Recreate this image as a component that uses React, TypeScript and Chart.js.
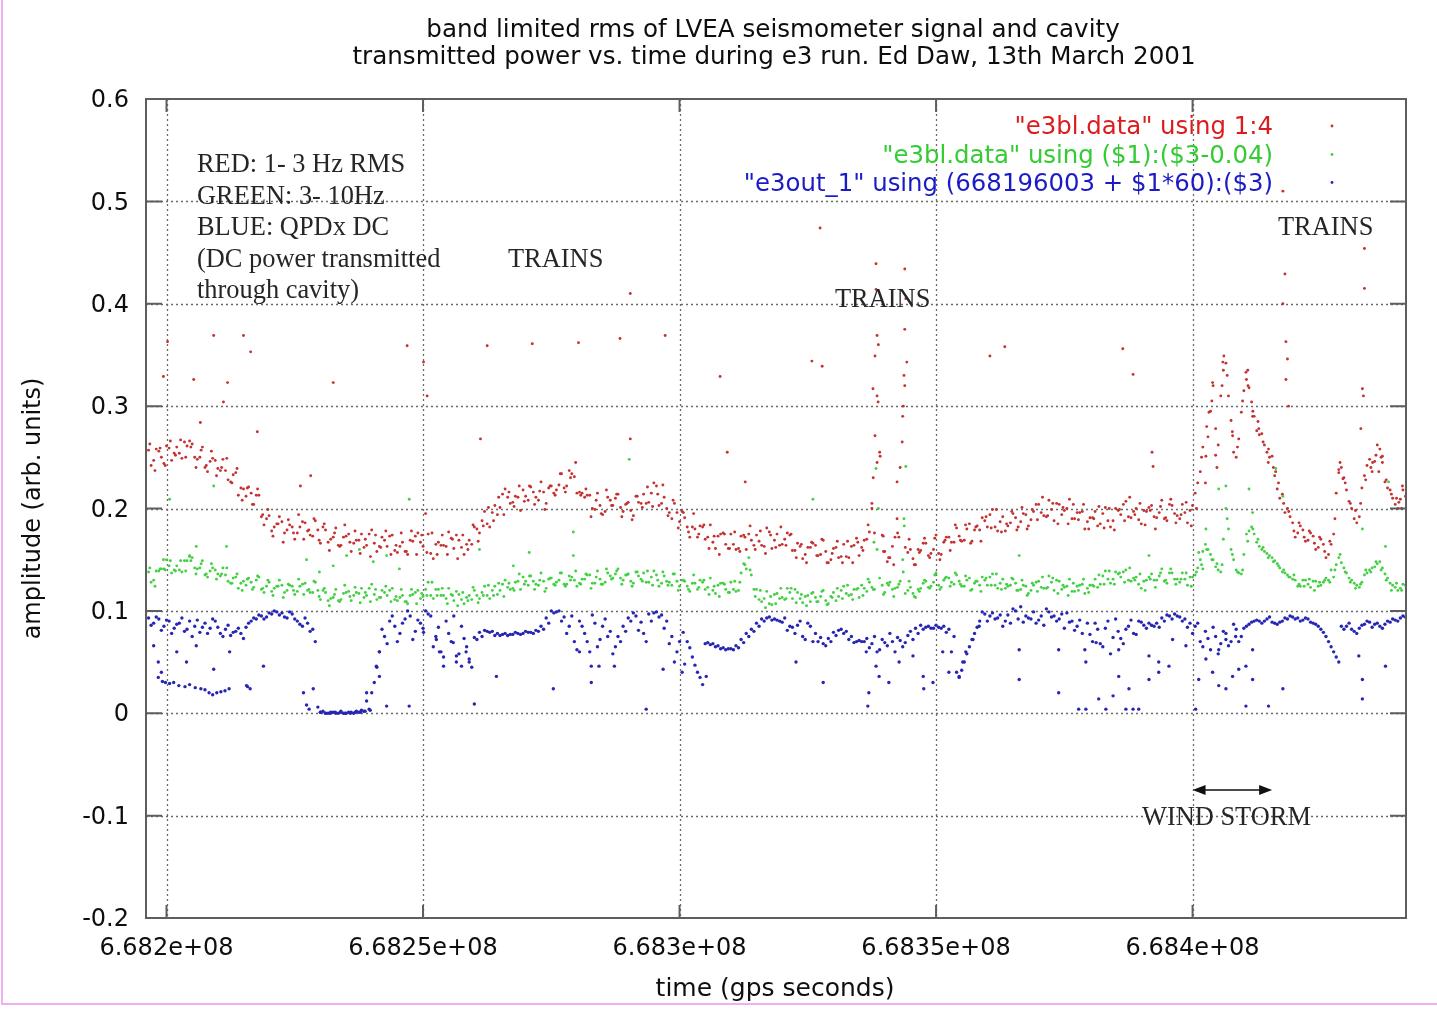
import React, { useEffect, useRef } from "react";
import { Chart, registerables } from "chart.js";

Chart.register(...registerables);

// ---------------- data ----------------
// regular samples: one value every SAMPLE_STEP seconds; three interleaved readings of each band
// (A starts at SAMPLE_START, B a quarter step later, C half a step later), gps seconds.
const SAMPLE_START = 668196500;
const QUARTER_START = 668196750;
const MID_START = 668197000;
const SAMPLE_STEP = 1000;
// sparse points are given as [kiloseconds after KS_BASE, value]
const KS_BASE = 668000000;

const X_MIN = 668196003;
const X_MAX = 668441600;
const X_TICKS = [668200000, 668250000, 668300000, 668350000, 668400000];
const X_TICK_LABELS = ["6.682e+08", "6.6825e+08", "6.683e+08", "6.6835e+08", "6.684e+08"];
const Y_TICKS = [-0.2, -0.1, 0, 0.1, 0.2, 0.3, 0.4, 0.5, 0.6];
const Y_TICK_LABELS = ["-0.2", "-0.1", "0", "0.1", "0.2", "0.3", "0.4", "0.5", "0.6"];

const TITLE_LINES = [
  "band limited rms of LVEA seismometer signal and cavity",
  "transmitted power vs. time during e3 run. Ed Daw, 13th March 2001",
];
const X_TITLE = "time (gps seconds)";
const Y_TITLE = "amplitude (arb. units)";
const LEGEND_LABELS = [
  '"e3bl.data" using 1:4',
  '"e3bl.data" using ($1):($3-0.04)',
  '"e3out_1" using (668196003 + $1*60):($3)',
];
const NOTE_LINES = [
  "RED: 1- 3 Hz RMS",
  "GREEN: 3- 10Hz",
  "BLUE: QPDx DC",
  "(DC power transmitted",
  "through cavity)",
];
const TRAINS_LABEL = "TRAINS";
const STORM_LABEL = "WIND STORM";
const STORM_START = 668400000;
const STORM_END = 668415500;
const STORM_ARROW_Y = -0.075;

// red: 1-3 Hz band limited rms ("e3bl.data" using 1:4)
const redRmsA = [
  0.257, 0.247, 0.256, 0.244, 0.259, 0.254, 0.254, 0.265, 0.266, 0.25, 0.25, 0.24, 0.246,
  0.247, 0.237, 0.237, 0.226, 0.235, 0.22, 0.212, 0.215, 0.213, 0.192, 0.19, 0.178, 0.185,
  0.187, 0.179, 0.182, 0.176, 0.187, 0.178, 0.173, 0.179, 0.182, 0.167, 0.172, 0.164, 0.172,
  0.175, 0.166, 0.169, 0.162, 0.175, 0.166, 0.163, 0.169, 0.173, 0.159, 0.163, 0.158, 0.169,
  0.173, 0.167, 0.195, 0.156, 0.165, 0.164, 0.163, 0.171, 0.174, 0.162, 0.165, 0.165, 0.18,
  0.188, 0.185, 0.196, 0.194, 0.214, 0.211, 0.206, 0.211, 0.218, 0.208, 0.216, 0.208, 0.216,
  0.22, 0.215, 0.223, 0.22, 0.237, 0.231, 0.216, 0.211, 0.213, 0.199, 0.203, 0.197, 0.208,
  0.21, 0.201, 0.204, 0.198, 0.212, 0.205, 0.205, 0.215, 0.222, 0.205, 0.2, 0.19, 0.196,
  0.197, 0.182, 0.182, 0.172, 0.182, 0.172, 0.167, 0.173, 0.176, 0.161, 0.165, 0.161, 0.174,
  0.175, 0.164, 0.168, 0.163, 0.177, 0.169, 0.164, 0.17, 0.174, 0.159, 0.163, 0.155, 0.162,
  0.164, 0.155, 0.158, 0.15, 0.162, 0.153, 0.153, 0.163, 0.171, 0.162, 0.17, 0.205, 0.31,
  0.174, 0.148, 0.163, 0.176, 0.29, 0.157, 0.151, 0.16, 0.166, 0.154, 0.16, 0.156, 0.167,
  0.172, 0.167, 0.173, 0.169, 0.185, 0.179, 0.179, 0.188, 0.194, 0.182, 0.187, 0.178, 0.186,
  0.191, 0.187, 0.194, 0.189, 0.204, 0.196, 0.192, 0.199, 0.205, 0.194, 0.2, 0.19, 0.196,
  0.197, 0.187, 0.191, 0.183, 0.195, 0.188, 0.188, 0.198, 0.204, 0.192, 0.197, 0.189, 0.198,
  0.201, 0.192, 0.196, 0.19, 0.204, 0.195, 0.19, 0.196, 0.198, 0.215, 0.236, 0.225, 0.295,
  0.252, 0.31, 0.342, 0.286, 0.25, 0.294, 0.326, 0.304, 0.276, 0.273, 0.255, 0.251, 0.219,
  0.214, 0.2, 0.186, 0.176, 0.179, 0.169, 0.173, 0.162, 0.165, 0.155, 0.175, 0.235, 0.23,
  0.207, 0.19, 0.192, 0.232, 0.248, 0.246, 0.258, 0.226, 0.218, 0.204, 0.209, 0.212,
];
const redRmsB = [
  0.263, 0.237, 0.259, 0.242, 0.266, 0.252, 0.267, 0.25, 0.26, 0.24, 0.257, 0.242, 0.256, 0.232, 0.24, 0.249, 0.225,
  0.239, 0.208, 0.22, 0.204, 0.219, 0.194, 0.199, 0.173, 0.185, 0.167, 0.189, 0.176, 0.194, 0.17, 0.179, 0.19, 0.169,
  0.185, 0.159, 0.176, 0.163, 0.184, 0.167, 0.178, 0.156, 0.17, 0.153, 0.174, 0.162, 0.178, 0.155, 0.164, 0.176, 0.158,
  0.178, 0.155, 0.174, 0.157, 0.176, 0.155, 0.174, 0.155, 0.17, 0.151, 0.174, 0.16, 0.184, 0.168, 0.183, 0.201, 0.188,
  0.211, 0.194, 0.216, 0.202, 0.222, 0.207, 0.222, 0.204, 0.217, 0.199, 0.222, 0.213, 0.234, 0.216, 0.23, 0.245, 0.213,
  0.219, 0.192, 0.208, 0.195, 0.218, 0.203, 0.214, 0.192, 0.205, 0.189, 0.212, 0.201, 0.221, 0.202, 0.214, 0.223, 0.193,
  0.208, 0.181, 0.196, 0.177, 0.195, 0.175, 0.184, 0.161, 0.173, 0.155, 0.175, 0.161, 0.177, 0.158, 0.172, 0.183, 0.16,
  0.178, 0.156, 0.174, 0.162, 0.182, 0.164, 0.175, 0.152, 0.165, 0.147, 0.167, 0.154, 0.17, 0.147, 0.156, 0.168, 0.147,
  0.168, 0.147, 0.167, 0.159, 0.184, 0.23, 0.36, 0.158, 0.152, 0.145, 0.172, 0.33, 0.17, 0.145, 0.157, 0.171, 0.152,
  0.171, 0.15, 0.169, 0.159, 0.184, 0.169, 0.184, 0.166, 0.182, 0.168, 0.192, 0.181, 0.199, 0.177, 0.185, 0.197, 0.179,
  0.201, 0.18, 0.199, 0.189, 0.211, 0.193, 0.205, 0.185, 0.201, 0.185, 0.204, 0.189, 0.204, 0.18, 0.19, 0.202, 0.181,
  0.2, 0.179, 0.199, 0.188, 0.211, 0.194, 0.205, 0.184, 0.198, 0.18, 0.202, 0.191, 0.209, 0.186, 0.194, 0.206, 0.183,
  0.2, 0.25, 0.28, 0.305, 0.24, 0.32, 0.33, 0.275, 0.26, 0.305, 0.335, 0.295, 0.285, 0.265, 0.245, 0.24, 0.225,
  0.205, 0.197, 0.178, 0.186, 0.172, 0.178, 0.166, 0.172, 0.158, 0.168, 0.19, 0.245, 0.225, 0.205, 0.198, 0.205,
  0.228, 0.24, 0.252, 0.25, 0.228, 0.214, 0.21, 0.2,
];
const redRmsC = [
  0.242, 0.258, 0.25, 0.261, 0.247, 0.26, 0.249, 0.261, 0.263, 0.248, 0.26,
  0.236, 0.249, 0.239, 0.248, 0.228, 0.233, 0.213, 0.219, 0.221, 0.204, 0.213,
  0.184, 0.193, 0.182, 0.192, 0.176, 0.184, 0.17, 0.182, 0.186, 0.174, 0.188,
  0.166, 0.179, 0.17, 0.181, 0.164, 0.173, 0.158, 0.169, 0.175, 0.164, 0.179,
  0.158, 0.172, 0.163, 0.174, 0.157, 0.167, 0.155, 0.168, 0.176, 0.163, 0.175,
  0.151, 0.167, 0.164, 0.177, 0.161, 0.169, 0.155, 0.169, 0.182, 0.176, 0.197,
  0.182, 0.203, 0.201, 0.219, 0.205, 0.212, 0.198, 0.212, 0.221, 0.211, 0.226,
  0.205, 0.222, 0.218, 0.234, 0.222, 0.234, 0.215, 0.215, 0.213, 0.2, 0.215,
  0.194, 0.211, 0.203, 0.214, 0.197, 0.206, 0.193, 0.206, 0.214, 0.206, 0.225,
  0.203, 0.211, 0.196, 0.205, 0.187, 0.191, 0.172, 0.18, 0.183, 0.17, 0.184,
  0.161, 0.175, 0.165, 0.175, 0.16, 0.173, 0.16, 0.169, 0.174, 0.164, 0.181,
  0.161, 0.175, 0.165, 0.176, 0.159, 0.166, 0.151, 0.162, 0.166, 0.154, 0.169,
  0.147, 0.161, 0.152, 0.165, 0.152, 0.164, 0.154, 0.169, 0.177, 0.176, 0.255,
  0.158, 0.152, 0.172, 0.24, 0.162, 0.16, 0.145, 0.159, 0.166, 0.156, 0.174,
  0.155, 0.172, 0.167, 0.181, 0.168, 0.18, 0.168, 0.183, 0.191, 0.182, 0.199,
  0.178, 0.192, 0.183, 0.195, 0.182, 0.195, 0.183, 0.197, 0.204, 0.193, 0.208,
  0.188, 0.204, 0.198, 0.209, 0.19, 0.196, 0.18, 0.191, 0.197, 0.185, 0.201,
  0.182, 0.2, 0.194, 0.207, 0.191, 0.2, 0.185, 0.197, 0.203, 0.191, 0.208,
  0.188, 0.203, 0.193, 0.204, 0.186, 0.203,
  0.225, 0.26, 0.27, 0.32, 0.262, 0.335, 0.31, 0.255, 0.268, 0.315, 0.318, 0.29, 0.272,
  0.262, 0.25, 0.232, 0.21, 0.196, 0.192, 0.172, 0.183, 0.168, 0.176, 0.16, 0.17, 0.152,
  0.165, 0.215, 0.24, 0.218, 0.2, 0.186, 0.22, 0.242, 0.236, 0.262, 0.245, 0.22, 0.21,
  0.2, 0.218,
];

// green: 3-10 Hz band limited rms, shifted down by 0.04 ("e3bl.data" using ($1):($3-0.04))
const greenRmsA = [
  0.138, 0.13, 0.139, 0.141, 0.144, 0.14, 0.14, 0.149, 0.153, 0.142, 0.142, 0.135, 0.139,
  0.14, 0.134, 0.135, 0.127, 0.133, 0.127, 0.125, 0.128, 0.13, 0.121, 0.124, 0.119, 0.124,
  0.125, 0.12, 0.124, 0.119, 0.126, 0.12, 0.118, 0.12, 0.12, 0.11, 0.113, 0.11, 0.117,
  0.119, 0.115, 0.117, 0.113, 0.122, 0.116, 0.113, 0.118, 0.12, 0.111, 0.113, 0.109, 0.115,
  0.118, 0.112, 0.121, 0.115, 0.121, 0.115, 0.112, 0.116, 0.119, 0.111, 0.113, 0.111, 0.115,
  0.118, 0.115, 0.12, 0.116, 0.126, 0.123, 0.122, 0.129, 0.133, 0.125, 0.129, 0.125, 0.129,
  0.131, 0.126, 0.13, 0.126, 0.134, 0.13, 0.127, 0.131, 0.135, 0.127, 0.131, 0.128, 0.134,
  0.136, 0.132, 0.135, 0.129, 0.138, 0.131, 0.128, 0.133, 0.135, 0.127, 0.129, 0.125, 0.129,
  0.13, 0.124, 0.127, 0.121, 0.128, 0.123, 0.12, 0.125, 0.127, 0.118, 0.121, 0.12, 0.146,
  0.152, 0.121, 0.111, 0.112, 0.107, 0.116, 0.112, 0.111, 0.118, 0.121, 0.112, 0.114, 0.109,
  0.113, 0.114, 0.11, 0.114, 0.11, 0.12, 0.117, 0.116, 0.121, 0.125, 0.119, 0.123, 0.16,
  0.125, 0.127, 0.121, 0.123, 0.15, 0.12, 0.117, 0.121, 0.127, 0.123, 0.128, 0.125, 0.13,
  0.132, 0.126, 0.129, 0.124, 0.132, 0.127, 0.125, 0.13, 0.133, 0.125, 0.127, 0.122, 0.125,
  0.127, 0.121, 0.124, 0.12, 0.128, 0.123, 0.122, 0.128, 0.13, 0.121, 0.124, 0.119, 0.124,
  0.126, 0.122, 0.125, 0.123, 0.134, 0.131, 0.131, 0.136, 0.138, 0.13, 0.132, 0.126, 0.129,
  0.133, 0.13, 0.134, 0.129, 0.137, 0.131, 0.128, 0.131, 0.133, 0.135, 0.15, 0.165, 0.155,
  0.143, 0.138, 0.2, 0.16, 0.14, 0.136, 0.175, 0.182, 0.167, 0.16, 0.156, 0.152, 0.146,
  0.138, 0.135, 0.131, 0.124, 0.13, 0.126, 0.129, 0.124, 0.128, 0.13, 0.133, 0.152, 0.142,
  0.132, 0.127, 0.123, 0.135, 0.14, 0.143, 0.148, 0.136, 0.127, 0.123, 0.122, 0.125,
];
const greenRmsB = [
  0.142, 0.124, 0.141, 0.14, 0.149, 0.139, 0.149, 0.139, 0.149, 0.136, 0.146, 0.136, 0.146, 0.131, 0.136, 0.142, 0.127,
  0.136, 0.12, 0.131, 0.121, 0.134, 0.122, 0.13, 0.115, 0.124, 0.113, 0.126, 0.12, 0.131, 0.116, 0.121, 0.129, 0.114,
  0.122, 0.105, 0.116, 0.109, 0.125, 0.114, 0.123, 0.108, 0.118, 0.109, 0.121, 0.113, 0.124, 0.109, 0.114, 0.121, 0.109,
  0.121, 0.107, 0.117, 0.115, 0.128, 0.115, 0.122, 0.107, 0.115, 0.105, 0.118, 0.11, 0.123, 0.108, 0.115, 0.125, 0.115,
  0.127, 0.114, 0.127, 0.12, 0.136, 0.126, 0.134, 0.121, 0.13, 0.119, 0.132, 0.125, 0.137, 0.124, 0.13, 0.139, 0.126,
  0.136, 0.122, 0.133, 0.126, 0.141, 0.131, 0.139, 0.126, 0.135, 0.124, 0.138, 0.129, 0.139, 0.125, 0.13, 0.138, 0.125,
  0.136, 0.12, 0.13, 0.121, 0.135, 0.123, 0.13, 0.116, 0.124, 0.114, 0.126, 0.118, 0.129, 0.128, 0.145, 0.14, 0.114,
  0.12, 0.103, 0.114, 0.107, 0.122, 0.112, 0.122, 0.108, 0.116, 0.105, 0.117, 0.109, 0.119, 0.106, 0.113, 0.122, 0.112,
  0.125, 0.111, 0.122, 0.115, 0.131, 0.121, 0.2, 0.116, 0.125, 0.114, 0.126, 0.19, 0.129, 0.114, 0.119, 0.13, 0.122,
  0.135, 0.121, 0.132, 0.124, 0.137, 0.126, 0.134, 0.12, 0.129, 0.119, 0.132, 0.125, 0.136, 0.121, 0.126, 0.132, 0.12,
  0.13, 0.115, 0.127, 0.119, 0.133, 0.123, 0.132, 0.117, 0.125, 0.115, 0.127, 0.12, 0.131, 0.118, 0.124, 0.135, 0.126,
  0.139, 0.126, 0.137, 0.128, 0.142, 0.13, 0.136, 0.12, 0.131, 0.123, 0.137, 0.13, 0.141, 0.126, 0.131, 0.137, 0.124,
  0.138, 0.145, 0.16, 0.15, 0.146, 0.145, 0.19, 0.155, 0.138, 0.14, 0.168, 0.18, 0.17, 0.162, 0.152, 0.148, 0.144,
  0.14, 0.133, 0.135, 0.126, 0.124, 0.131, 0.12, 0.128, 0.13, 0.128, 0.14, 0.155, 0.138, 0.128, 0.122, 0.126,
  0.14, 0.138, 0.148, 0.14, 0.13, 0.12, 0.127, 0.12,
];
const greenRmsC = [
  0.128, 0.139, 0.141, 0.15, 0.137, 0.144, 0.138, 0.149, 0.152, 0.141, 0.149,
  0.133, 0.142, 0.136, 0.142, 0.129, 0.132, 0.122, 0.129, 0.132, 0.123, 0.133,
  0.118, 0.128, 0.122, 0.13, 0.118, 0.125, 0.116, 0.124, 0.127, 0.118, 0.128,
  0.111, 0.118, 0.112, 0.121, 0.111, 0.118, 0.11, 0.118, 0.122, 0.115, 0.126,
  0.111, 0.12, 0.115, 0.122, 0.11, 0.115, 0.107, 0.116, 0.12, 0.114, 0.128,
  0.112, 0.121, 0.115, 0.122, 0.11, 0.116, 0.107, 0.115, 0.12, 0.112, 0.124,
  0.112, 0.124, 0.12, 0.13, 0.121, 0.128, 0.121, 0.129, 0.134, 0.126, 0.137,
  0.122, 0.132, 0.128, 0.137, 0.126, 0.133, 0.124, 0.131, 0.135, 0.127, 0.139,
  0.126, 0.137, 0.132, 0.141, 0.13, 0.136, 0.127, 0.134, 0.137, 0.128, 0.139,
  0.124, 0.134, 0.128, 0.136, 0.124, 0.129, 0.119, 0.127, 0.13, 0.121, 0.132,
  0.117, 0.127, 0.121, 0.128, 0.119, 0.137, 0.141, 0.135, 0.121, 0.109, 0.119,
  0.106, 0.117, 0.113, 0.122, 0.112, 0.118, 0.108, 0.115, 0.118, 0.109, 0.12,
  0.107, 0.118, 0.114, 0.124, 0.115, 0.121, 0.113, 0.122, 0.128, 0.121, 0.132,
  0.118, 0.128, 0.122, 0.129, 0.117, 0.123, 0.113, 0.122, 0.129, 0.124, 0.137,
  0.123, 0.133, 0.128, 0.135, 0.124, 0.13, 0.121, 0.129, 0.133, 0.125, 0.136,
  0.122, 0.131, 0.124, 0.131, 0.12, 0.125, 0.117, 0.125, 0.129, 0.122, 0.134,
  0.12, 0.129, 0.123, 0.131, 0.119, 0.125, 0.117, 0.125, 0.131, 0.126, 0.139,
  0.127, 0.138, 0.133, 0.14, 0.129, 0.133, 0.122, 0.13, 0.136, 0.13, 0.141,
  0.127, 0.137, 0.131, 0.137, 0.125, 0.133,
  0.142, 0.158, 0.16, 0.15, 0.14, 0.17, 0.18, 0.15, 0.137, 0.155, 0.178, 0.175, 0.163,
  0.158, 0.154, 0.149, 0.142, 0.137, 0.133, 0.13, 0.124, 0.13, 0.123, 0.129, 0.125, 0.132,
  0.14, 0.145, 0.147, 0.137, 0.13, 0.125, 0.128, 0.137, 0.142, 0.146, 0.142, 0.132, 0.125,
  0.12, 0.126,
];

// blue: QPDx DC, transmitted power ("e3out_1")
const blueQpdA = [
  0.093, 0.088, 0.092, 0.085, 0.09, 0.083, 0.088, 0.08, 0.09, 0.085, 0.079, 0.088, 0.083,
  0.09, 0.078, 0.082, 0.076, 0.08, 0.078, 0.084, 0.09, 0.092, 0.095, 0.094, 0.097, 0.099,
  0.098, 0.093, 0.097, 0.09, 0.085, 0.088, 0.082, 0.006, 0.002, 0.0, 0.001, 0.0, 0.0,
  0.001, 0.0, 0.001, 0.002, 0.004, 0.03, 0.06, 0.075, 0.09, 0.085, 0.078, 0.092, 0.095,
  0.08, 0.088, 0.1, 0.095, 0.075, 0.06, 0.09, 0.07, 0.05, 0.085, 0.065, 0.045, 0.072,
  0.075, 0.08, 0.08, 0.078, 0.077, 0.076, 0.077, 0.078, 0.078, 0.079, 0.078, 0.08, 0.082,
  0.088, 0.098, 0.1, 0.094, 0.085, 0.07, 0.09, 0.078, 0.06, 0.088, 0.072, 0.092, 0.08,
  0.065, 0.07, 0.08, 0.09, 0.095, 0.089, 0.07, 0.09, 0.099, 0.096, 0.09, 0.075, 0.06,
  0.04, 0.07, 0.055, 0.04, 0.028, 0.069, 0.068, 0.066, 0.064, 0.063, 0.062, 0.064, 0.069,
  0.075, 0.08, 0.085, 0.09, 0.094, 0.092, 0.09, 0.093, 0.085, 0.078, 0.09, 0.072, 0.085,
  0.078, 0.074, 0.066, 0.07, 0.076, 0.082, 0.08, 0.075, 0.07, 0.07, 0.073, 0.068, 0.06,
  0.072, 0.066, 0.07, 0.074, 0.065, 0.076, 0.072, 0.078, 0.082, 0.085, 0.083, 0.084, 0.085,
  0.082, 0.075, 0.035, 0.05, 0.065, 0.078, 0.09, 0.097, 0.095, 0.092, 0.096, 0.09, 0.088,
  0.1, 0.104, 0.095, 0.092, 0.088, 0.095, 0.102, 0.094, 0.09, 0.097, 0.098, 0.09, 0.085,
  0.078, 0.088, 0.07, 0.082, 0.065, 0.09, 0.074, 0.08, 0.068, 0.085, 0.078, 0.09, 0.086,
  0.088, 0.085, 0.084, 0.09, 0.095, 0.097, 0.094, 0.092, 0.088, 0.085, 0.07, 0.08, 0.062,
  0.075, 0.068, 0.078, 0.07, 0.082, 0.075, 0.085, 0.089, 0.091, 0.088, 0.092, 0.089, 0.087,
  0.09, 0.092, 0.094, 0.093, 0.091, 0.092, 0.088, 0.085, 0.079, 0.07, 0.06, 0.05, 0.082,
  0.088, 0.08, 0.083, 0.087, 0.089, 0.087, 0.085, 0.087, 0.089, 0.091, 0.093, 0.094,
];
const blueQpdC = [
  0.086, 0.094, 0.081, 0.091, 0.078, 0.087, 0.093, 0.082, 0.075, 0.091, 0.084, 0.078, 0.092,
  0.084, 0.075, 0.086, 0.079, 0.083, 0.073, 0.088,
  0.093, 0.096, 0.092, 0.098, 0.1, 0.096, 0.094, 0.099, 0.092, 0.087, 0.093, 0.08,
  0.07,
  0.001, 0.0, 0.001, 0.0, 0.002, 0.0, 0.001, 0.002, 0.003,
  0.012, 0.02, 0.045,
  0.082, 0.068, 0.095, 0.07, 0.088, 0.1, 0.072, 0.091, 0.083, 0.097, 0.065, 0.084, 0.055,
  0.078, 0.095, 0.058, 0.073, 0.05,
  0.074, 0.079, 0.081, 0.079, 0.076, 0.076, 0.078, 0.077, 0.079, 0.077, 0.08, 0.079, 0.081,
  0.085,
  0.093, 0.1, 0.099,
  0.09, 0.078, 0.095, 0.062, 0.085, 0.07, 0.096, 0.065, 0.085, 0.075, 0.058, 0.075, 0.085,
  0.093, 0.098, 0.081, 0.078, 0.097, 0.098, 0.094, 0.083, 0.068,
  0.05, 0.07, 0.048, 0.064, 0.047, 0.035,
  0.068, 0.067, 0.065, 0.063, 0.062, 0.063, 0.066, 0.072, 0.078, 0.082, 0.088, 0.092, 0.093,
  0.091, 0.091, 0.089,
  0.081, 0.084, 0.086, 0.075, 0.088, 0.07, 0.07, 0.068, 0.073, 0.079, 0.081, 0.078, 0.072,
  0.069, 0.071, 0.07, 0.064, 0.075,
  0.062, 0.069, 0.078, 0.06, 0.071, 0.069, 0.08, 0.083, 0.086, 0.084, 0.083, 0.086, 0.083,
  0.079, 0.06,
  0.04, 0.042, 0.058, 0.072, 0.084,
  0.099, 0.09, 0.098, 0.093, 0.085, 0.096, 0.102, 0.092, 0.089, 0.093, 0.099, 0.091, 0.086,
  0.099, 0.095, 0.092, 0.083, 0.089, 0.081,
  0.091, 0.062, 0.077, 0.088, 0.068, 0.083, 0.058, 0.092, 0.073, 0.082, 0.091, 0.077, 0.089,
  0.083, 0.086, 0.088, 0.093, 0.096, 0.092, 0.095, 0.09, 0.084, 0.078,
  0.088, 0.065, 0.073, 0.084, 0.058, 0.08, 0.066, 0.087, 0.07, 0.083,
  0.087, 0.09, 0.09, 0.09, 0.094, 0.088, 0.089, 0.093, 0.095, 0.092, 0.09, 0.093, 0.089,
  0.087,
  0.082, 0.075, 0.065, 0.055,
  0.085,
  0.085, 0.082, 0.078, 0.086, 0.09, 0.084, 0.088, 0.083, 0.09, 0.092, 0.09, 0.095,
];

// sparse points away from the main bands: [ks after KS_BASE, value]
const redSpikes = [
  [199.4, 0.329], [200.2, 0.363], [205.3, 0.326], [206.6, 0.284], [209.2, 0.369], [211.1, 0.304],
  [211.9, 0.323], [215.0, 0.369], [216.4, 0.353], [217.7, 0.275], [226.1, 0.222], [228.1, 0.232],
  [232.5, 0.323], [246.9, 0.359], [250.1, 0.343], [250.8, 0.31], [261.2, 0.268], [262.5, 0.359],
  [271.3, 0.361], [280.3, 0.362], [288.4, 0.366], [290.4, 0.268], [290.4, 0.41], [297.2, 0.369],
  [307.9, 0.329], [309.3, 0.255], [312.8, 0.226], [325.8, 0.344], [327.4, 0.474], [327.8, 0.339],
  [337.5, 0.2], [337.7, 0.317], [338.1, 0.349], [338.1, 0.271], [338.3, 0.439], [338.3, 0.414],
  [338.5, 0.369], [338.5, 0.245], [338.7, 0.304], [339.1, 0.251], [339.7, 0.173], [342.4, 0.226],
  [342.4, 0.19], [343.4, 0.265], [343.6, 0.3], [343.9, 0.32], [343.9, 0.375], [343.9, 0.434],
  [344.1, 0.405], [344.3, 0.343], [360.5, 0.349], [363.4, 0.358], [386.4, 0.356], [388.4, 0.331],
  [392.1, 0.255], [392.3, 0.241], [402.6, 0.251], [403.2, 0.294], [403.9, 0.323], [404.5, 0.278],
  [405.9, 0.343], [406.1, 0.349], [407.8, 0.271], [410.4, 0.333], [410.8, 0.32], [411.7, 0.29],
  [412.9, 0.278], [414.8, 0.258], [416.2, 0.236], [417.6, 0.4], [417.6, 0.51], [418.0, 0.429],
  [418.2, 0.363], [418.2, 0.326], [418.5, 0.346], [418.7, 0.3], [428.5, 0.238], [429.3, 0.229],
  [432.8, 0.278], [433.1, 0.317], [433.3, 0.31], [433.5, 0.415], [433.5, 0.454], [435.1, 0.245],
  [436.3, 0.236], [437.0, 0.251], [440.2, 0.206], [440.9, 0.222],
];

const greenSpikes = [
  [199.4, 0.15], [200.6, 0.209], [204.5, 0.154], [205.8, 0.163], [209.2, 0.222], [211.7, 0.163],
  [227.3, 0.15], [229.8, 0.138], [232.5, 0.144], [235.1, 0.154], [237.6, 0.16], [240.3, 0.148],
  [242.9, 0.154], [245.4, 0.141], [247.3, 0.209], [261.0, 0.16], [267.6, 0.144], [270.7, 0.157],
  [279.3, 0.177], [279.3, 0.154], [290.2, 0.248], [326.0, 0.209], [338.3, 0.239], [337.9, 0.167],
  [344.1, 0.241], [343.8, 0.183], [343.6, 0.138], [366.2, 0.154], [391.5, 0.154], [401.2, 0.157],
  [402.0, 0.141], [402.6, 0.18], [405.1, 0.219], [406.5, 0.222], [411.0, 0.219], [411.7, 0.196],
  [416.2, 0.239], [417.6, 0.212], [433.1, 0.18], [437.6, 0.163], [438.2, 0.226],
];

const blueScatter = [
  [198.4, 0.035], [199.2, 0.031], [199.8, 0.03], [200.6, 0.029], [201.4, 0.03], [202.4, 0.027],
  [203.6, 0.026], [204.5, 0.028], [205.6, 0.025], [206.7, 0.024], [207.5, 0.023], [208.3, 0.02],
  [209.0, 0.018], [209.8, 0.02], [210.6, 0.021], [211.4, 0.022], [212.2, 0.024], [215.8, 0.026],
  [216.3, 0.024], [227.3, 0.008], [227.8, 0.004], [230.0, 0.001], [231.0, 0.0], [231.9, 0.0],
  [232.9, 0.001], [233.9, 0.001], [234.8, 0.0], [235.8, 0.0], [236.8, 0.001], [237.8, 0.001],
  [238.7, 0.002], [239.7, 0.003], [197.5, 0.066], [198.4, 0.05], [199.0, 0.04], [202.0, 0.06],
  [203.9, 0.05], [205.8, 0.066], [209.2, 0.043], [212.3, 0.06], [215.6, 0.027], [218.9, 0.046],
  [226.7, 0.02], [228.6, 0.024], [239.0, 0.02], [240.9, 0.046], [241.5, 0.06], [241.5, 0.036],
  [242.9, 0.007], [247.3, 0.007], [250.1, 0.079], [252.6, 0.072], [253.2, 0.06], [254.0, 0.046],
  [255.9, 0.069], [256.5, 0.056], [257.5, 0.046], [258.4, 0.06], [259.0, 0.053], [260.0, 0.009],
  [264.3, 0.036], [275.4, 0.024], [280.5, 0.06], [282.8, 0.046], [282.8, 0.03], [284.3, 0.046],
  [287.3, 0.046], [293.5, 0.004], [296.8, 0.043], [300.7, 0.079], [305.2, 0.036], [322.7, 0.05],
  [328.0, 0.03], [336.4, 0.06], [336.7, 0.007], [336.9, 0.02], [338.3, 0.046], [338.9, 0.036],
  [340.8, 0.03], [342.8, 0.05], [345.5, 0.056], [347.5, 0.036], [347.6, 0.024], [349.4, 0.03],
  [351.3, 0.06], [352.5, 0.04], [354.5, 0.036], [355.2, 0.05], [355.8, 0.06], [357.2, 0.072],
  [358.4, 0.085], [366.2, 0.062], [366.2, 0.033], [373.9, 0.062], [373.9, 0.02], [377.8, 0.004],
  [379.2, 0.05], [379.2, 0.004], [381.2, 0.069], [381.7, 0.014], [383.1, 0.004], [384.5, 0.017],
  [385.6, 0.036], [385.6, 0.062], [387.0, 0.004], [387.6, 0.024], [388.4, 0.004], [389.5, 0.004],
  [391.5, 0.033], [391.5, 0.056], [393.4, 0.04], [393.4, 0.05], [395.4, 0.046], [396.1, 0.072],
  [398.7, 0.066], [400.6, 0.004], [401.2, 0.033], [402.6, 0.053], [403.9, 0.04], [405.1, 0.027],
  [405.1, 0.062], [406.5, 0.024], [406.5, 0.072], [407.8, 0.036], [408.4, 0.075], [409.0, 0.043],
  [410.4, 0.046], [410.4, 0.007], [411.7, 0.033], [411.7, 0.062], [414.8, 0.007], [417.6, 0.024],
  [432.4, 0.056], [433.1, 0.033], [433.1, 0.014], [437.6, 0.046],
];

// ---------------- styles ----------------
const RED_DOT = "#c43232";
const GREEN_DOT = "#44d044";
const BLUE_DOT = "#2626b2";
const LEGEND_COLORS = ["#dc1c1c", "#33cc33", "#1b1bc6"];
const SANS = "'DejaVu Sans', 'Liberation Sans', sans-serif";
const SERIF = "'Liberation Serif', 'DejaVu Serif', serif";

const regular = (vals: number[], start: number) =>
  vals.map((y, i) => ({ x: start + i * SAMPLE_STEP, y }));
const sparse = (arr: number[][]) => arr.map(([k, y]) => ({ x: KS_BASE + k * 1000, y }));

const decorPlugin = {
  id: "gnuplotDecor",
  beforeDatasetsDraw(chart: any) {
    const { ctx, chartArea: a, scales } = chart;
    const xs = scales.x;
    const ys = scales.y;
    ctx.save();
    ctx.strokeStyle = "#6a6a6a";
    ctx.lineWidth = 1.3;
    ctx.setLineDash([2, 3]);
    for (const v of Y_TICKS) {
      const y = Math.round(ys.getPixelForValue(v)) + 0.5;
      if (y <= a.top + 2 || y >= a.bottom - 2) continue;
      ctx.beginPath();
      ctx.moveTo(a.left, y);
      ctx.lineTo(a.right, y);
      ctx.stroke();
    }
    for (const v of X_TICKS) {
      const x = Math.round(xs.getPixelForValue(v)) + 0.5;
      ctx.beginPath();
      ctx.moveTo(x, a.top);
      ctx.lineTo(x, a.bottom);
      ctx.stroke();
    }
    ctx.restore();
  },
  afterDraw(chart: any) {
    const { ctx, chartArea: a, scales } = chart;
    const xs = scales.x;
    const ys = scales.y;
    ctx.save();
    // frame + inward tick marks
    ctx.setLineDash([]);
    ctx.strokeStyle = "#5e5e5e";
    ctx.lineWidth = 2;
    ctx.strokeRect(a.left, a.top, a.right - a.left, a.bottom - a.top);
    ctx.beginPath();
    for (const v of Y_TICKS) {
      const y = ys.getPixelForValue(v);
      ctx.moveTo(a.left, y);
      ctx.lineTo(a.left + 16, y);
      ctx.moveTo(a.right, y);
      ctx.lineTo(a.right - 16, y);
    }
    for (const v of X_TICKS) {
      const x = xs.getPixelForValue(v);
      ctx.moveTo(x, a.bottom);
      ctx.lineTo(x, a.bottom - 13);
      ctx.moveTo(x, a.top);
      ctx.lineTo(x, a.top + 13);
    }
    ctx.stroke();

    const cx = (a.left + a.right) / 2;
    // title
    ctx.fillStyle = "#0e0e0e";
    ctx.textAlign = "center";
    ctx.textBaseline = "alphabetic";
    ctx.font = `24.6px ${SANS}`;
    ctx.fillText(TITLE_LINES[0], cx - 3, 37);
    ctx.fillText(TITLE_LINES[1], cx - 2, 64);
    // axis titles
    ctx.font = `25px ${SANS}`;
    ctx.fillText(X_TITLE, cx - 1, 996);
    ctx.save();
    ctx.translate(40, (a.top + a.bottom) / 2);
    ctx.rotate(-Math.PI / 2);
    ctx.font = `24px ${SANS}`;
    ctx.fillText(Y_TITLE, 0, 0);
    ctx.restore();

    // legend (gnuplot key, right aligned, with a dot sample)
    ctx.textAlign = "right";
    ctx.font = `24.4px ${SANS}`;
    const keyY = [134, 162.5, 190.5];
    const dotCols = [RED_DOT, GREEN_DOT, BLUE_DOT];
    LEGEND_LABELS.forEach((t, i) => {
      ctx.fillStyle = LEGEND_COLORS[i];
      ctx.fillText(t, 1273, keyY[i]);
      ctx.fillStyle = dotCols[i];
      ctx.beginPath();
      ctx.arc(1332, keyY[i] - 8, 1.4, 0, Math.PI * 2);
      ctx.fill();
    });

    // serif annotations
    ctx.fillStyle = "#262626";
    ctx.textAlign = "left";
    ctx.font = `26.4px ${SERIF}`;
    const noteY = [172, 203.5, 235, 266.5, 298];
    NOTE_LINES.forEach((t, i) => ctx.fillText(t, 197, noteY[i]));
    ctx.fillText(TRAINS_LABEL, 508, 267);
    ctx.fillText(TRAINS_LABEL, 835, 307);
    ctx.fillText(TRAINS_LABEL, 1278, 235);
    ctx.fillText(STORM_LABEL, 1142, 825);

    // wind storm double arrow
    const x1 = xs.getPixelForValue(STORM_START);
    const x2 = xs.getPixelForValue(STORM_END);
    const ay = ys.getPixelForValue(STORM_ARROW_Y);
    ctx.strokeStyle = "#111";
    ctx.fillStyle = "#111";
    ctx.lineWidth = 1.6;
    ctx.beginPath();
    ctx.moveTo(x1 + 6, ay);
    ctx.lineTo(x2 - 6, ay);
    ctx.stroke();
    ctx.beginPath();
    ctx.moveTo(x1, ay);
    ctx.lineTo(x1 + 13, ay - 5);
    ctx.lineTo(x1 + 13, ay + 5);
    ctx.closePath();
    ctx.fill();
    ctx.beginPath();
    ctx.moveTo(x2, ay);
    ctx.lineTo(x2 - 13, ay - 5);
    ctx.lineTo(x2 - 13, ay + 5);
    ctx.closePath();
    ctx.fill();

    // page border (pink frame of the original page)
    ctx.strokeStyle = "#f2aef2";
    ctx.lineWidth = 2;
    ctx.beginPath();
    ctx.moveTo(2, 0);
    ctx.lineTo(2, 1004);
    ctx.lineTo(1437, 1004);
    ctx.stroke();
    ctx.restore();
  },
};

export default function App() {
  const ref = useRef<HTMLCanvasElement | null>(null);
  useEffect(() => {
    if (!ref.current) return;
    const pt = { pointRadius: 1.45, pointBorderWidth: 0, pointHoverRadius: 0, showLine: false };
    const chart = new Chart(ref.current, {
      type: "scatter",
      data: {
        datasets: [
          {
            label: "blue",
            data: [...regular(blueQpdA, SAMPLE_START), ...regular(blueQpdC, MID_START), ...sparse(blueScatter)],
            backgroundColor: BLUE_DOT,
            ...pt,
            pointRadius: 1.7,
          },
          {
            label: "green",
            data: [
              ...regular(greenRmsA, SAMPLE_START),
              ...regular(greenRmsB, QUARTER_START),
              ...regular(greenRmsC, MID_START),
              ...sparse(greenSpikes),
            ],
            backgroundColor: GREEN_DOT,
            ...pt,
          },
          {
            label: "red",
            data: [
              ...regular(redRmsA, SAMPLE_START),
              ...regular(redRmsB, QUARTER_START),
              ...regular(redRmsC, MID_START),
              ...sparse(redSpikes),
            ],
            backgroundColor: RED_DOT,
            ...pt,
          },
        ],
      },
      options: {
        responsive: false,
        animation: false,
        devicePixelRatio: 1,
        events: [],
        layout: { padding: { left: 0, top: 99, right: 31, bottom: 0 } },
        plugins: { legend: { display: false }, title: { display: false }, tooltip: { enabled: false } },
        scales: {
          x: {
            type: "linear",
            position: "bottom",
            min: X_MIN,
            max: X_MAX,
            afterBuildTicks: (s: any) => {
              s.ticks = X_TICKS.map((v) => ({ value: v }));
            },
            afterFit: (s: any) => {
              s.height = 95;
            },
            grid: { display: false, drawTicks: false },
            border: { display: false },
            ticks: {
              autoSkip: false,
              maxRotation: 0,
              minRotation: 0,
              padding: 16,
              color: "#0e0e0e",
              font: { family: SANS, size: 24 },
              callback: (v: any) => X_TICK_LABELS[X_TICKS.indexOf(Number(v))] ?? "",
            },
          },
          y: {
            type: "linear",
            position: "left",
            min: -0.2,
            max: 0.6,
            afterBuildTicks: (s: any) => {
              s.ticks = Y_TICKS.map((v) => ({ value: v }));
            },
            afterFit: (s: any) => {
              s.width = 146;
            },
            grid: { display: false, drawTicks: false },
            border: { display: false },
            ticks: {
              autoSkip: false,
              padding: 17,
              labelOffset: 2,
              color: "#0e0e0e",
              font: { family: SANS, size: 24 },
              callback: (v: any) => {
                const idx = Y_TICKS.findIndex((t) => Math.abs(t - Number(v)) < 1e-9);
                return idx >= 0 ? Y_TICK_LABELS[idx] : "";
              },
            },
          },
        },
      },
      plugins: [decorPlugin],
    } as any);
    return () => chart.destroy();
  }, []);
  return (
    <div style={{ position: "fixed", left: 0, top: 0, width: 1437, height: 1013, background: "#fff" }}>
      <canvas ref={ref} width={1437} height={1013} style={{ display: "block", width: 1437, height: 1013 }} />
    </div>
  );
}
